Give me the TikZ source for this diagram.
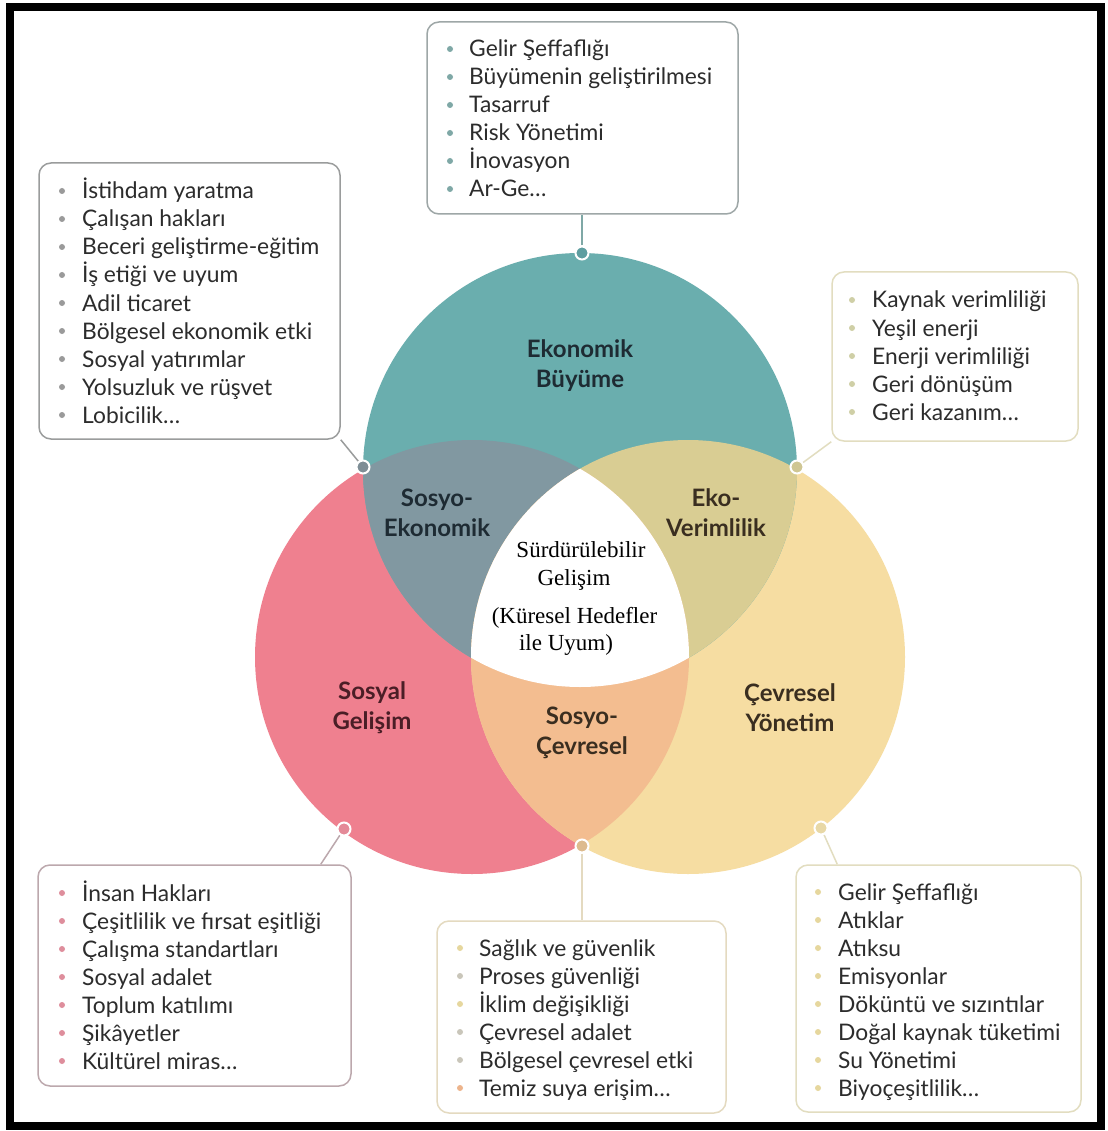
\documentclass[tikz,border=0pt]{standalone}
\usepackage{fontspec}
\setmainfont{Lato}
\newfontfamily\serifc{Liberation Serif}
\usetikzlibrary{backgrounds}
\definecolor{cTeal}{HTML}{6AAEAE}
\definecolor{cPink}{HTML}{EF808F}
\definecolor{cYel}{HTML}{F6DDA2}
\definecolor{cTP}{HTML}{8198A1}
\definecolor{cTY}{HTML}{D9CD93}
\definecolor{cPY}{HTML}{F3BD90}
\definecolor{tDark}{HTML}{1E2B33}
\definecolor{tRed}{HTML}{4A1E26}
\definecolor{tBrown}{HTML}{3A2E20}
\definecolor{itemtxt}{HTML}{2C2C2C}
\definecolor{bdT}{HTML}{9EA7A7}
\definecolor{bdG}{HTML}{9A9C9C}
\definecolor{bdY}{HTML}{E2DDC0}
\definecolor{bdP}{HTML}{BCA8AD}
\definecolor{bdPY}{HTML}{E4DAC0}
\definecolor{buT}{HTML}{7FA8A6}
\definecolor{buG}{HTML}{9A9A9A}
\definecolor{buY}{HTML}{CFCFA6}
\definecolor{buP}{HTML}{DE8E9C}
\definecolor{buYe}{HTML}{E6D79E}
\definecolor{buGr}{HTML}{C9C6BA}
\definecolor{buO}{HTML}{EDB48C}
\definecolor{dkT}{HTML}{5E9EA0}
\definecolor{dkTP}{HTML}{7E8E96}
\definecolor{dkTY}{HTML}{CFC693}
\definecolor{dkP}{HTML}{E48A98}
\definecolor{dkPY}{HTML}{DDBB8E}
\definecolor{dkY}{HTML}{E8D8A6}
\tikzset{
  box/.style={draw=#1, fill=white, rounded corners=12pt, line width=1.5pt, inner sep=0pt},
  item/.style={anchor=base west, inner sep=0pt, text=itemtxt, font=\fontsize{22.8}{28}\selectfont},
  lab/.style={align=center, inner sep=0pt, font=\bfseries\fontsize{24}{30}\selectfont},
  ctext/.style={anchor=base, inner sep=0pt, text=black, font=\serifc\fontsize{23}{28}\selectfont},
  dot/.style={circle, fill=#1, draw=white, line width=2pt, minimum size=13pt, inner sep=0pt},
  conn/.style={line width=1.5pt, draw=#1},
}
\begin{document}
\begin{tikzpicture}[x=1pt,y=-1pt]
\useasboundingbox (0,0) rectangle (1107,1131);
\begin{pgfonlayer}{background}
\fill[white] (0,0) rectangle (1107,1131);
\end{pgfonlayer}
% Venn
\coordinate (cT) at (580,470);
\coordinate (cP) at (472,657);
\coordinate (cY) at (688,657);
\fill[cPink] (cP) circle (217pt);
\fill[cYel] (cY) circle (217pt);
\fill[cTeal] (cT) circle (217pt);
\begin{scope}
  \clip (cT) circle (217pt);
  \fill[cTP] (cP) circle (217pt);
  \fill[cTY] (cY) circle (217pt);
\end{scope}
\begin{scope}
  \clip (cP) circle (217pt);
  \fill[cPY] (cY) circle (217pt);
\end{scope}
\begin{scope}
  \clip (cT) circle (217pt);
  \clip (cP) circle (217pt);
  \fill[white] (cY) circle (217pt);
\end{scope}
% labels
\node[lab, text=tDark] (lEk) at (580,366) {Ekonomik\\Büyüme};
\node[lab, text=tDark] (lSE) at (437,513) {Sosyo-\\Ekonomik};
\node[lab, text=tBrown] (lEV) at (716,513) {Eko-\\Verimlilik};
\node[lab, text=tRed] (lSG) at (372,708) {Sosyal\\Gelişim};
\node[lab, text=tBrown] (lSC) at (582,733) {Sosyo-\\Çevresel};
\node[lab, text=tBrown] (lCY) at (790,708) {Çevresel\\Yönetim};
\node[ctext] (s1) at (581,557) {Sürdürülebilir};
\node[ctext] (s2) at (574,585) {Gelişim};
\node[ctext] (s3) at (574.5,623) {(Küresel Hedefler};
\node[ctext] (s4) at (566,650) {ile Uyum)};
% boxes
\node[box=bdT, minimum width=311pt, minimum height=192pt] (b1) at (582.5,118) {};
\node[box=bdG, minimum width=301pt, minimum height=276pt] (b2) at (189.5,301) {};
\node[box=bdY, minimum width=246pt, minimum height=169pt] (b3) at (955,356.5) {};
\node[box=bdP, minimum width=313pt, minimum height=221pt] (b4) at (194.5,975.5) {};
\node[box=bdPY, minimum width=289pt, minimum height=192pt] (b5) at (581.5,1017) {};
\node[box=bdY, minimum width=285pt, minimum height=247pt] (b6) at (938.5,988.5) {};
% items
\foreach \t [count=\i from 0] in {Gelir Şeffaflığı, Büyümenin geliştirilmesi, Tasarruf, Risk Yönetimi, İnovasyon, Ar-Ge…}{
  \fill[buT] (450,49+28*\i) circle (3pt);
  \node[item] (b1i\i) at (469,57+28*\i) {\t};
}
\foreach \t [count=\i from 0] in {İstihdam yaratma, Çalışan hakları, Beceri geliştirme-eğitim, İş etiği ve uyum, Adil ticaret, Bölgesel ekonomik etki, Sosyal yatırımlar, Yolsuzluk ve rüşvet, Lobicilik…}{
  \fill[buG] (62,191+28*\i) circle (3pt);
  \node[item] (b2i\i) at (82,199+28*\i) {\t};
}
\foreach \t [count=\i from 0] in {Kaynak verimliliği, Yeşil enerji, Enerji verimliliği, Geri dönüşüm, Geri kazanım…}{
  \fill[buY] (852,300+28*\i) circle (3pt);
  \node[item] (b3i\i) at (872,308+28*\i) {\t};
}
\foreach \t [count=\i from 0] in {İnsan Hakları, Çeşitlilik ve fırsat eşitliği, Çalışma standartları, Sosyal adalet, Toplum katılımı, Şikâyetler, Kültürel miras…}{
  \fill[buP] (62,893+28*\i) circle (3pt);
  \node[item] (b4i\i) at (82,901+28*\i) {\t};
}
\foreach \t/\c [count=\i from 0] in {Sağlık ve güvenlik/buYe, Proses güvenliği/buGr, İklim değişikliği/buYe, Çevresel adalet/buGr, Bölgesel çevresel etki/buGr, Temiz suya erişim…/buO}{
  \fill[\c] (460,948+28*\i) circle (3pt);
  \node[item] (b5i\i) at (479,956+28*\i) {\t};
}
\foreach \t [count=\i from 0] in {Gelir Şeffaflığı, Atıklar, Atıksu, Emisyonlar, Döküntü ve sızıntılar, Doğal kaynak tüketimi, Su Yönetimi, Biyoçeşitlilik…}{
  \fill[buYe] (818,892+28*\i) circle (3pt);
  \node[item] (b6i\i) at (838,900+28*\i) {\t};
}
% dots
\node[dot=dkT] (dT) at (582,253) {};
\node[dot=dkTP] (dTP) at (363,467) {};
\node[dot=dkTY] (dTY) at (797,467) {};
\node[dot=dkP] (dP) at (344,829) {};
\node[dot=dkPY] (dPY) at (582,846) {};
\node[dot=dkY] (dY) at (821,828) {};
% connectors
\begin{pgfonlayer}{background}
\draw[conn=buT] (dT) -- (dT |- b1.south);
\draw[conn=bdG] (dTP) -- (b2.south east);
\draw[conn=bdY] (dTY) -- (b3.south west);
\draw[conn=bdP] (dP) -- ([xshift=-31pt]b4.north east);
\draw[conn=bdPY] (dPY) -- (dPY |- b5.north);
\draw[conn=bdY] (dY) -- ([xshift=42pt]b6.north west);
\end{pgfonlayer}
% frame
\draw[line width=8pt] (10,7) rectangle (1101,1126);
\end{tikzpicture}
\end{document}
